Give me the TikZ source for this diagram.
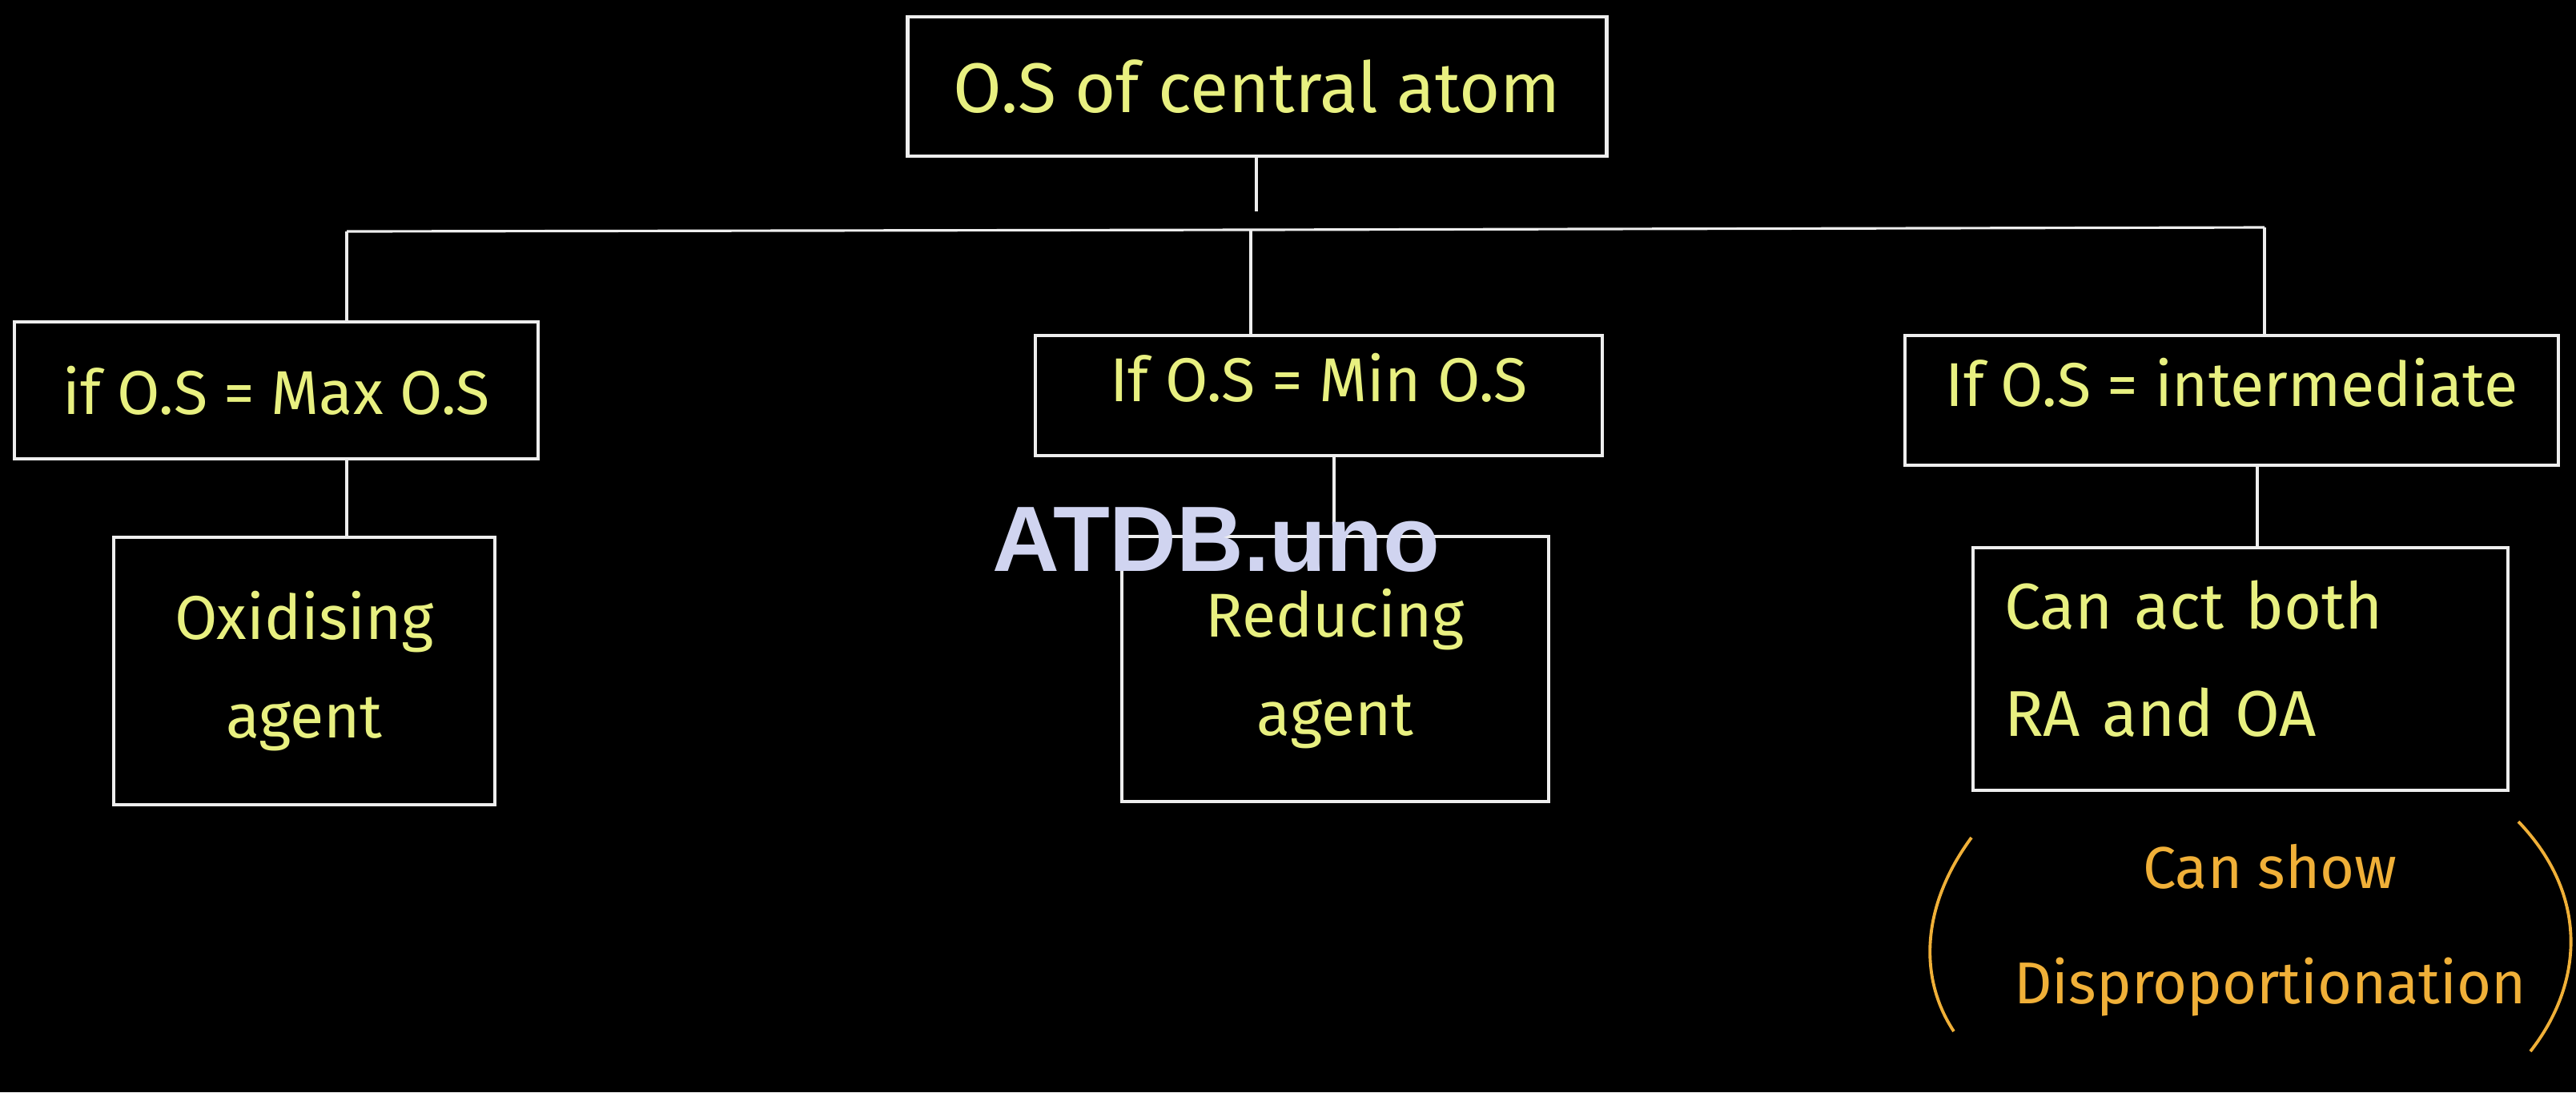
\documentclass[tikz,border=0pt]{standalone}
\usepackage{fontspec}
\setmainfont{Fira Sans}
\newfontfamily\markfont{Liberation Sans}
\usepackage{xcolor}
\usetikzlibrary{positioning}

\definecolor{chalk}{RGB}{232,240,128}
\definecolor{amber}{RGB}{240,176,56}
\definecolor{frame}{RGB}{238,238,238}
\definecolor{stamp}{RGB}{208,212,240}

\begin{document}
\begin{tikzpicture}[
    box/.style={rectangle, draw=frame, line width=1.4pt, text=chalk,
                align=center, inner sep=0pt,
                font=\fontsize{22}{35}\selectfont},
    link/.style={draw=frame, line width=0.9pt},
    note/.style={text=amber, align=center,
                 font=\fontsize{21}{41}\selectfont}
  ]

  \fill[black] (0,0) rectangle (32.17,-13.64);
  \useasboundingbox (0,0) rectangle (32.17,-13.64);

  % root
  \node[box, minimum width=8.73cm, minimum height=1.74cm,
        font=\fontsize{25}{30}\selectfont] (root) at (15.70,-1.08) {O.S of central atom};

  % the three cases
  \node[box, minimum width=6.54cm, minimum height=1.71cm] (maxos) at (3.45,-4.875) {if O.S = Max O.S};
  \node[box, minimum width=7.08cm, minimum height=1.50cm, text depth=0.45cm] (minos) at (16.47,-4.94) {If O.S = Min O.S};
  \node[box, minimum width=8.16cm, minimum height=1.62cm, text depth=0.45cm] (interm) at (27.87,-5.00) {If O.S = intermediate};

  % what they do
  \node[box, minimum width=4.76cm, minimum height=3.34cm] (oxid) at (3.80,-8.38) {Oxidising\\agent};
  \node[box, minimum width=5.33cm, minimum height=3.31cm] (reduc) at (16.675,-8.355) {Reducing\\agent};
  \node[box, minimum width=6.68cm, minimum height=3.03cm, align=left, text width=5.9cm,
        font=\fontsize{23}{38}\selectfont, text depth=1.6cm] (both) at (27.98,-8.355) {Can act both\\RA and OA};

  \node[note] (disp) at (28.35,-11.62) {Can show\\Disproportionation};

  % bus
  \coordinate (busL) at (4.33,-2.89);
  \coordinate (busM) at (15.62,-2.87);
  \coordinate (busR) at (28.28,-2.84);

  \draw[link] (root.south -| 15.69,0) -- ++(0,-0.67);
  \draw[link] (busL) -- (busM) -- (busR);
  \draw[link] (busL) -- (busL |- maxos.north);
  \draw[link] (busM) -- (busM |- minos.north);
  \draw[link] (busR) -- (busR |- interm.north);

  \draw[link] (maxos.south -| busL) -- (oxid.north -| busL);
  \draw[link] (minos.south -| 16.66,0) -- (reduc.north -| 16.66,0);
  \draw[link] (interm.south -| 28.19,0) -- (both.north -| 28.19,0);

  % brackets round the note
  \draw[amber, line width=1.1pt] (24.62,-10.46) .. controls (24.0,-11.3) and (23.95,-12.2) .. (24.40,-12.88);
  \draw[amber, line width=1.1pt] (31.45,-10.26) .. controls (32.35,-11.2) and (32.25,-12.3) .. (31.60,-13.13);

  \node[text=stamp, font=\markfont\bfseries\fontsize{33}{36}\selectfont] (wm) at (15.19,-6.74) {ATDB.uno};

\end{tikzpicture}
\end{document}
